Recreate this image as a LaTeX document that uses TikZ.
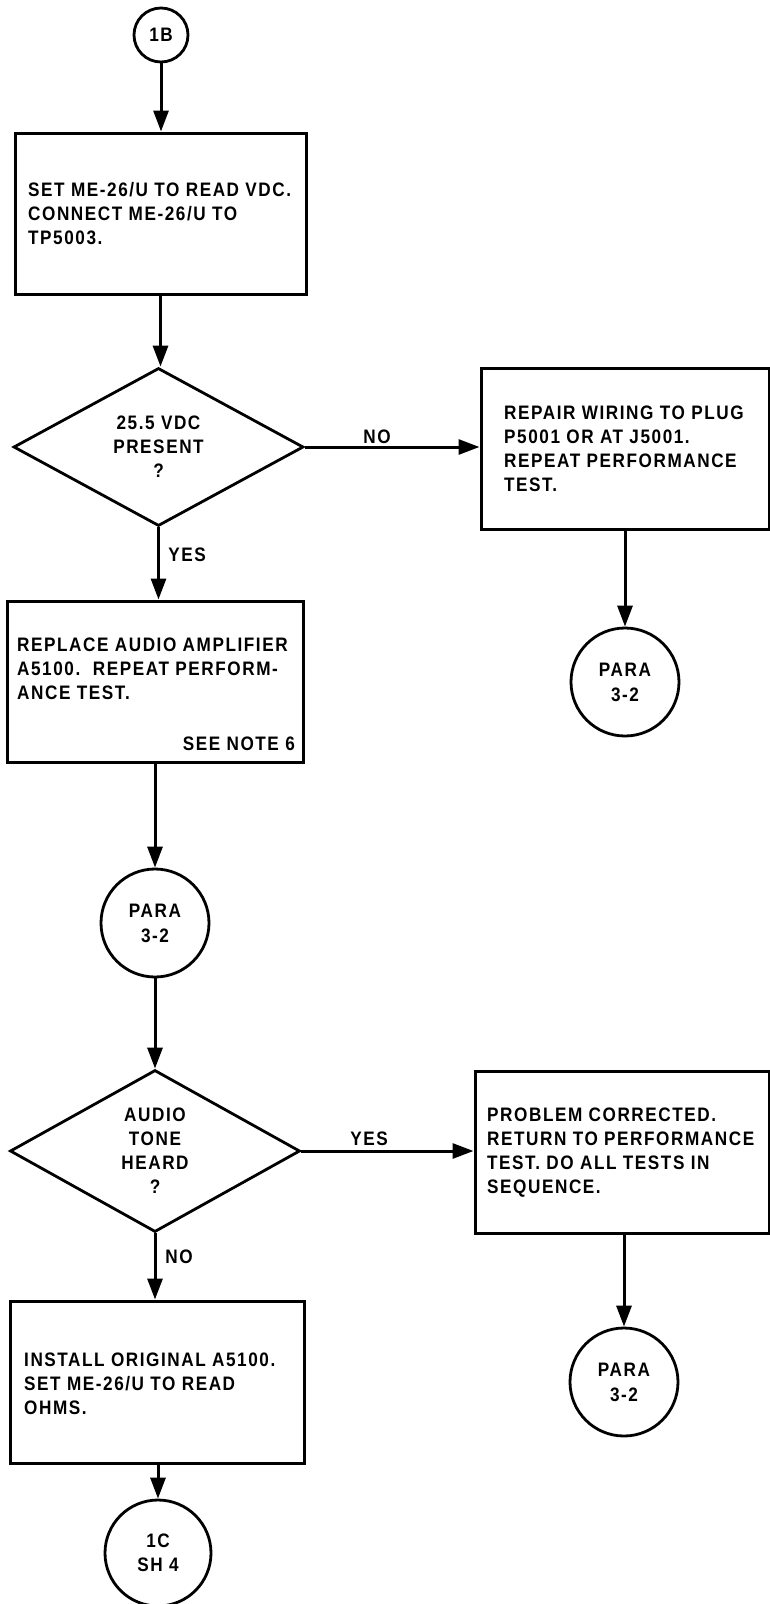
\documentclass[tikz,border=0pt]{standalone}
\usepackage{fontspec}
\setmainfont{Liberation Sans}[FakeStretch=0.88,LetterSpace=8]
\usetikzlibrary{shapes.geometric,arrows.meta,calc}
\newcommand{\dfont}{\fontsize{19.5}{24}\selectfont\bfseries}
\begin{document}
\begin{tikzpicture}[x=1pt,y=-1pt,
  box/.style={draw, line width=3pt, rectangle, minimum height=161pt, inner sep=0pt},
  txt/.style={align=left, inner sep=0pt, font=\dfont},
  dec/.style={draw, diamond, line width=2.8pt, minimum width=290pt, minimum height=158pt, inner sep=0pt, align=center, font=\dfont},
  term/.style={draw, circle, line width=2.8pt, inner sep=0pt, align=center, font=\dfont},
  flow/.style={line width=3pt, -{Triangle[length=21pt,width=15pt]}},
  lbl/.style={inner sep=0pt, font=\dfont}]
\path[use as bounding box] (0,0) rectangle (770,1604);

% terminals
\node[term, minimum size=54pt] (c1) at (161,35) {1B};
\node[term, minimum size=108pt] (c2) at (625,682) {PARA\\[1pt]3-2};
\node[term, minimum size=108pt] (c3) at (155,923) {PARA\\[1pt]3-2};
\node[term, minimum size=108pt] (c4) at (624,1382) {PARA\\[1pt]3-2};
\node[term, minimum size=106pt] (c5) at (158,1553) {1C\\SH 4};

% boxes
\node[box, minimum width=291pt] (b1) at (160.5,213.5) {};
\node[txt, anchor=west] (t1) at (28,214) {SET ME-26/U TO READ VDC.\\CONNECT ME-26/U TO\\TP5003.};

\node[box, minimum width=288pt] (b2) at (625,448.5) {};
\node[txt, anchor=west] (t2) at (504,449) {REPAIR WIRING TO PLUG\\P5001 OR AT J5001.\\REPEAT PERFORMANCE\\TEST.};

\node[box, minimum width=296pt] (b3) at (155,681.5) {};
\node[txt, anchor=west] (t3) at (17,669) {REPLACE AUDIO AMPLIFIER\\A5100.\ \ REPEAT PERFORM-\\ANCE TEST.};
\node[txt, anchor=east] (t3n) at (295,744) {SEE NOTE 6};

\node[box, minimum width=294pt, minimum height=162pt] (b4) at (622,1152) {};
\node[txt, anchor=west] (t4) at (487,1153) {PROBLEM CORRECTED.\\RETURN TO PERFORMANCE\\TEST. DO ALL TESTS IN\\SEQUENCE.};

\node[box, minimum width=294pt, minimum height=162pt] (b5) at (157,1382) {};
\node[txt, anchor=west] (t5) at (24,1384) {INSTALL ORIGINAL A5100.\\SET ME-26/U TO READ\\OHMS.};

% decisions
\node[dec] (d1) at (158.5,447) {25.5 VDC\\PRESENT\\?};
\node[dec, minimum height=162pt] (d2) at (155,1151) {AUDIO\\TONE\\HEARD\\?};

% connectors
\draw[flow] (c1.south) -- (c1.south |- b1.north);
\draw[flow] (b1.south) -- (b1.south |- d1.north);
\draw[flow] (d1.south) -- (d1.south |- b3.north);
\draw[flow] (d1.east) -- (d1.east -| b2.west);
\draw[flow] (c2.north |- b2.south) -- (c2.north);
\draw[flow] (c3.north |- b3.south) -- (c3.north);
\draw[flow] (c3.south) -- (c3.south |- d2.north);
\draw[flow] (d2.east) -- (d2.east -| b4.west);
\draw[flow] (c4.north |- b4.south) -- (c4.north);
\draw[flow] (d2.south) -- (d2.south |- b5.north);
\draw[flow] (c5.north |- b5.south) -- (c5.north);

% labels
\node[lbl] (l1) at (377,437) {NO};
\node[lbl] (l2) at (187,555) {YES};
\node[lbl] (l3) at (369,1139) {YES};
\node[lbl] (l4) at (179,1257) {NO};
\end{tikzpicture}
\end{document}
